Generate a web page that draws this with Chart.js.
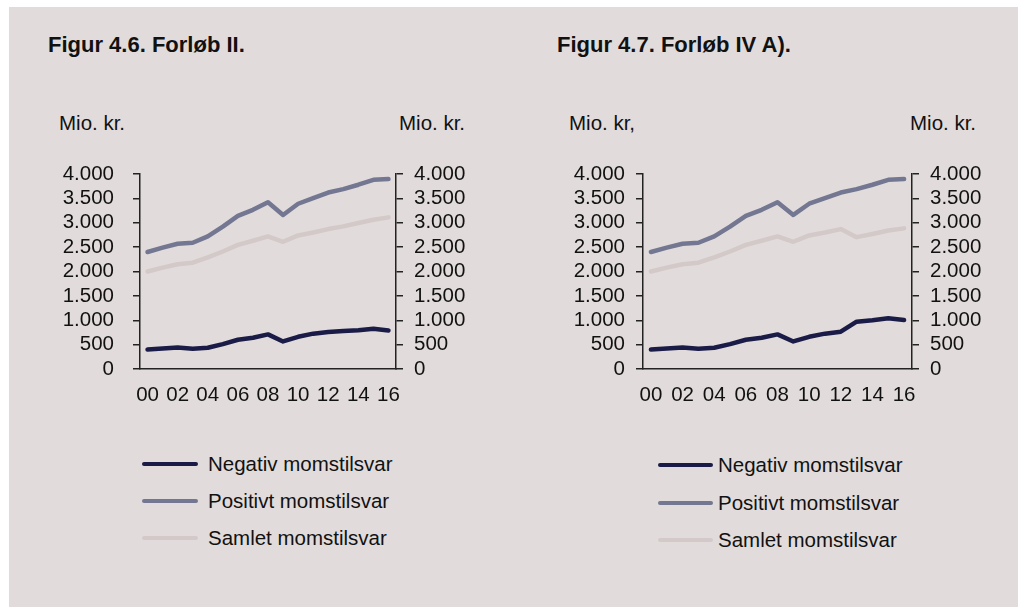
<!DOCTYPE html>
<html>
<head>
<meta charset="utf-8">
<script src="https://cdn.jsdelivr.net/npm/chart.js@4/dist/chart.umd.min.js"></script>
<style>
  html, body { margin: 0; padding: 0; background: #ffffff; }
  body { width: 1018px; height: 607px; position: relative; overflow: hidden; font-family: "Liberation Sans", Arial, sans-serif; color: #111; }
  #panel { position: absolute; left: 9px; top: 7px; width: 1009px; height: 600px; background: #e1dcdb; }
  .txt { position: absolute; white-space: nowrap; line-height: 1; font-size: 20.5px; }
  .title { font-weight: bold; font-size: 22px; }
  .cv { position: absolute; }
  .lg-line { position: absolute; height: 4.5px; border-radius: 3px; }
</style>
</head>
<body>
<div id="panel"></div>
<div class="txt title" style="left:48px; top:34px;">Figur 4.6. Forløb II.</div>
<div class="txt title" style="left:557px; top:34px;">Figur 4.7. Forløb IV A).</div>
<div class="txt" style="left:59px; top:113px;">Mio. kr.</div>
<div class="txt" style="left:399px; top:113px;">Mio. kr.</div>
<div class="txt" style="left:569px; top:113px;">Mio. kr,</div>
<div class="txt" style="left:910px; top:113px;">Mio. kr.</div>
<div class="cv" style="left:0px; top:142px; width:509px; height:277px;"><canvas id="c1"></canvas></div>
<div class="cv" style="left:520px; top:142px; width:498px; height:277px;"><canvas id="c2"></canvas></div>
<div id="legends"></div>
<script>
// ---- data ----
const years = ['00','01','02','03','04','05','06','07','08','09','10','11','12','13','14','15','16'];
const xTickLabels = ['00','','02','','04','','06','','08','','10','','12','','14','','16'];
const yTickValues = [0, 500, 1000, 1500, 2000, 2500, 3000, 3500, 4000];
const seriesNames = ['Negativ momstilsvar', 'Positivt momstilsvar', 'Samlet momstilsvar'];

// Figur 4.6 Forløb II
const negativII = [400, 420, 440, 415, 435, 510, 600, 640, 710, 565, 660, 725, 760, 780, 795, 825, 790];
const positivII = [2400, 2490, 2570, 2590, 2720, 2920, 3140, 3265, 3420, 3160, 3390, 3505, 3620, 3690, 3780, 3880, 3895];
const samletII  = [2000, 2080, 2150, 2180, 2290, 2410, 2545, 2630, 2720, 2610, 2740, 2800, 2870, 2925, 2995, 3060, 3110];

// Figur 4.7 Forløb IV A)
const negativIV = [400, 420, 440, 415, 435, 510, 600, 640, 710, 565, 660, 725, 765, 970, 1000, 1040, 1005];
const positivIV = [2400, 2490, 2570, 2590, 2720, 2920, 3140, 3265, 3420, 3160, 3390, 3505, 3620, 3690, 3780, 3880, 3895];
const samletIV  = [2000, 2080, 2150, 2180, 2290, 2410, 2545, 2630, 2720, 2610, 2740, 2800, 2870, 2705, 2770, 2840, 2885];

// ---- styles ----
const colors = ['#1b1b48', '#747792', '#d3c9c9'];
const axisColor = '#222222';
const fontFamily = '"Liberation Sans", Arial, sans-serif';
Chart.defaults.font.family = fontFamily;
Chart.defaults.font.size = 20.5;
Chart.defaults.color = '#111111';

function fmt(v) {
  if (v >= 1000) return Math.floor(v / 1000) + '.' + String(v % 1000).padStart(3, '0');
  return String(v);
}

function makeChart(id, series, cfg) {
  const ds = series.map((d, i) => ({
    label: seriesNames[i],
    data: d,
    borderColor: colors[i],
    backgroundColor: colors[i],
    borderWidth: 4.5,
    pointRadius: 0,
    tension: 0,
    borderCapStyle: 'round',
    borderJoinStyle: 'round',
    yAxisID: 'y'
  }));
  const yBase = (pos, pad, w) => ({
    type: 'linear',
    position: pos,
    min: 0, max: 4000,
    afterBuildTicks: s => { s.ticks = yTickValues.map(v => ({ value: v })); },
    afterFit: s => { s.width = w; },
    ticks: { padding: pad, autoSkip: false, callback: v => fmt(v), color: '#111' },
    grid: { display: true, drawOnChartArea: false, drawTicks: true, tickLength: 7, color: axisColor, lineWidth: 1.5 },
    border: { display: true, color: axisColor, width: 1.5 }
  });
  return new Chart(document.getElementById(id), {
    type: 'line',
    data: { labels: years, datasets: ds.slice().reverse() },
    options: {
      responsive: true,
      maintainAspectRatio: false,
      animation: false,
      events: [],
      layout: { padding: { top: 32, left: 0, right: 0, bottom: 0 } },
      plugins: { legend: { display: false }, tooltip: { enabled: false } },
      scales: {
        x: {
          type: 'category',
          offset: true,
          afterFit: s => { s.height = 50; },
          ticks: { autoSkip: false, maxRotation: 0, padding: 6, callback: (v, i) => xTickLabels[i], color: '#111' },
          grid: { display: false },
          border: { display: true, color: axisColor, width: 1.5 }
        },
        y: yBase('left', cfg.padL, cfg.wL),
        y2: yBase('right', cfg.padR, cfg.wR)
      }
    }
  });
}

makeChart('c1', [negativII, positivII, samletII], { padL: 19, wL: 140, padR: 11, wR: 113 });
makeChart('c2', [negativIV, positivIV, samletIV], { padL: 11, wL: 123, padR: 11, wR: 106 });

// ---- legends ----
function makeLegend(lineX, lineW, textX, rowsY) {
  const host = document.getElementById('legends');
  seriesNames.forEach((name, i) => {
    const l = document.createElement('div');
    l.className = 'lg-line';
    l.style.left = lineX + 'px';
    l.style.width = lineW + 'px';
    l.style.top = (rowsY[i] - 2.25) + 'px';
    l.style.background = colors[i];
    host.appendChild(l);
    const t = document.createElement('div');
    t.className = 'txt';
    t.style.left = textX + 'px';
    t.style.top = (rowsY[i] - 10) + 'px';
    t.textContent = name;
    host.appendChild(t);
  });
}
makeLegend(142, 56, 208, [464, 501, 538]);
makeLegend(658, 55, 718, [465, 503, 540]);
</script>
</body>
</html>
